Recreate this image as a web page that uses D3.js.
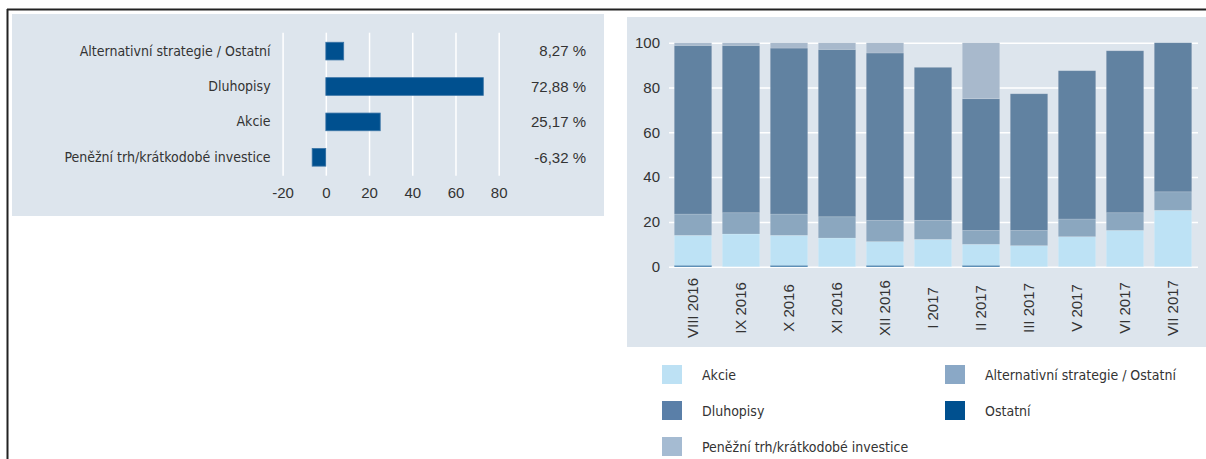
<!DOCTYPE html>
<html>
<head>
<meta charset="utf-8">
<script src="https://cdn.jsdelivr.net/npm/d3@7"></script>
<style>
  body { margin: 0; background: #fff; }
  svg { display: block; }
</style>
</head>
<body>
<div id="chart"></div>
<script>
const width = 1206;
const height = 459;

// left chart: current allocation
const allocCategories = ["Alternativní strategie / Ostatní", "Dluhopisy", "Akcie", "Peněžní trh/krátkodobé investice"];
const allocValues = [8.27, 72.88, 25.17, -6.32];
const allocLabels = ["8,27 %", "72,88 %", "25,17 %", "-6,32 %"];
const allocTicks = [-20, 0, 20, 40, 60, 80];

// right chart: history
const months = ["VIII 2016", "IX 2016", "X 2016", "XI 2016", "XII 2016", "I 2017", "II 2017", "III 2017", "V 2017", "VI 2017", "VII 2017"];
const ostatni   = [0.6, 0, 0.6, 0, 0.6, 0, 0.6, 0, 0, 0, 0];
const akcie     = [13.4, 14.6, 13.4, 12.8, 10.6, 12.2, 9.4, 9.4, 13.4, 16.2, 25.17];
const alternat  = [9.5, 9.5, 9.5, 9.5, 9.5, 8.5, 6.2, 6.8, 7.9, 7.9, 8.27];
const dluhopisy = [75.3, 74.7, 74.1, 74.7, 74.7, 68.3, 58.8, 61.0, 66.2, 72.3, 72.88];
const penezni   = [1.2, 1.2, 2.4, 3.0, 4.6, 0, 25.0, 0, 0, 0, 0];
const yTicks = [0, 20, 40, 60, 80, 100];

const seriesKeys = ["Ostatní", "Akcie", "Alternativní strategie / Ostatní", "Dluhopisy", "Peněžní trh/krátkodobé investice"];
const seriesValues = [ostatni, akcie, alternat, dluhopisy, penezni];
const barColors = ["#00508f", "#bde2f5", "#8ba7bf", "#6182a1", "#a8b9cc"];

const legendItems = ["Akcie", "Dluhopisy", "Peněžní trh/krátkodobé investice", "Alternativní strategie / Ostatní", "Ostatní"];
const legendColors = ["#bde1f4", "#5a7fa8", "#a5bbd2", "#8aa8c6", "#00508f"];

const narrow = "'Liberation Sans Narrow', 'DejaVu Sans Condensed', sans-serif";
const sans = "'Liberation Sans', Arial, sans-serif";
const textColor = "#333";
const panelBg = "#dde5ed";

const svg = d3.select("#chart")
  .append("svg")
  .attr("width", width)
  .attr("height", height);

// frame lines
svg.append("line")
  .attr("x1", 7).attr("x2", width).attr("y1", 9.5).attr("y2", 9.5)
  .attr("stroke", "#222").attr("stroke-width", 2);
svg.append("line")
  .attr("x1", 7.5).attr("x2", 7.5).attr("y1", 9).attr("y2", height)
  .attr("stroke", "#222").attr("stroke-width", 2);

// ---------- left chart ----------
svg.append("rect")
  .attr("x", 12).attr("y", 14).attr("width", 592).attr("height", 202)
  .attr("fill", panelBg);

const xL = d3.scaleLinear().domain([-20, 80]).range([282.6, 498.7]);
const yL = d3.scaleBand().domain(allocCategories).range([32.7, 175.7])
  .paddingInner(0.5).paddingOuter(0.27);

const gxL = svg.append("g")
  .attr("transform", "translate(0,175.7)")
  .call(d3.axisBottom(xL).tickValues(allocTicks).tickFormat(d => String(d))
    .tickSize(-(175.7 - 32.7)).tickPadding(12));
gxL.select(".domain").remove();
gxL.selectAll(".tick line").attr("stroke", "#fff").attr("stroke-width", 1.5);
gxL.selectAll(".tick text")
  .attr("fill", textColor).attr("font-family", sans).attr("font-size", 15);

const gyL = svg.append("g")
  .attr("transform", "translate(282.6,0)")
  .call(d3.axisLeft(yL).tickSize(0).tickPadding(12));
gyL.select(".domain").remove();
gyL.selectAll(".tick text")
  .attr("fill", textColor).attr("font-family", narrow).attr("font-size", 14);

svg.append("g").selectAll("rect")
  .data(allocValues)
  .enter().append("rect")
  .attr("x", d => xL(Math.min(0, d)))
  .attr("y", (d, i) => yL(allocCategories[i]))
  .attr("width", d => Math.abs(xL(d) - xL(0)))
  .attr("height", yL.bandwidth())
  .attr("fill", "#00508f")
  .attr("stroke", "#3a74a6")
  .attr("stroke-width", 0.8);

svg.append("g").selectAll("text")
  .data(allocLabels)
  .enter().append("text")
  .attr("x", 586)
  .attr("y", (d, i) => yL(allocCategories[i]) + yL.bandwidth() / 2)
  .attr("dy", "0.35em")
  .attr("text-anchor", "end")
  .attr("fill", textColor)
  .attr("font-family", sans)
  .attr("font-size", 15)
  .text(d => d);

// ---------- right chart ----------
svg.append("rect")
  .attr("x", 627).attr("y", 17).attr("width", width - 627).attr("height", 330)
  .attr("fill", panelBg);

const x = d3.scaleBand().domain(months).range([669, 1197])
  .paddingInner(0.22).paddingOuter(0.11);
const y = d3.scaleLinear().domain([0, 100]).range([266.7, 42.7]).clamp(true);

const gy = svg.append("g")
  .attr("transform", "translate(669,0)")
  .call(d3.axisLeft(y).tickValues(yTicks).tickSize(-(1198 - 669)).tickPadding(9));
gy.select(".domain").remove();
gy.selectAll(".tick line").attr("stroke", "#fff").attr("stroke-width", 1.5);
gy.selectAll(".tick text")
  .attr("fill", textColor).attr("font-family", sans).attr("font-size", 15);

const table = months.map((m, i) => {
  const row = { month: m };
  seriesKeys.forEach((k, j) => { row[k] = seriesValues[j][i]; });
  return row;
});
const stacked = d3.stack().keys(seriesKeys)(table);

svg.append("g").selectAll("g")
  .data(stacked)
  .enter().append("g")
  .attr("fill", (d, i) => barColors[i])
  .selectAll("rect")
  .data(d => d.filter(p => p[1] - p[0] > 0))
  .enter().append("rect")
  .attr("x", d => x(d.data.month))
  .attr("y", d => y(d[1]))
  .attr("width", x.bandwidth())
  .attr("height", d => y(d[0]) - y(d[1]))
  .attr("stroke", "rgba(255,255,255,0.18)")
  .attr("stroke-width", 0.8);

svg.append("g").selectAll("text")
  .data(months)
  .enter().append("text")
  .attr("transform", d => `translate(${x(d) + x.bandwidth() / 2},308) rotate(-90)`)
  .attr("dy", "0.35em")
  .attr("text-anchor", "middle")
  .attr("fill", textColor)
  .attr("font-family", sans)
  .attr("font-size", 15)
  .text(d => d);

// legend
const legend = svg.append("g");
legendItems.forEach((name, i) => {
  const col = i < 3 ? 0 : 1;
  const row = i < 3 ? i : i - 3;
  const lx = col === 0 ? 662 : 945;
  const ly = 365 + row * 36;
  legend.append("rect")
    .attr("x", lx).attr("y", ly).attr("width", 20).attr("height", 19)
    .attr("fill", legendColors[i]);
  legend.append("text")
    .attr("x", lx + 40).attr("y", ly + 10)
    .attr("dy", "0.35em")
    .attr("fill", textColor)
    .attr("font-family", narrow)
    .attr("font-size", 14)
    .text(name);
});
</script>
</body>
</html>
